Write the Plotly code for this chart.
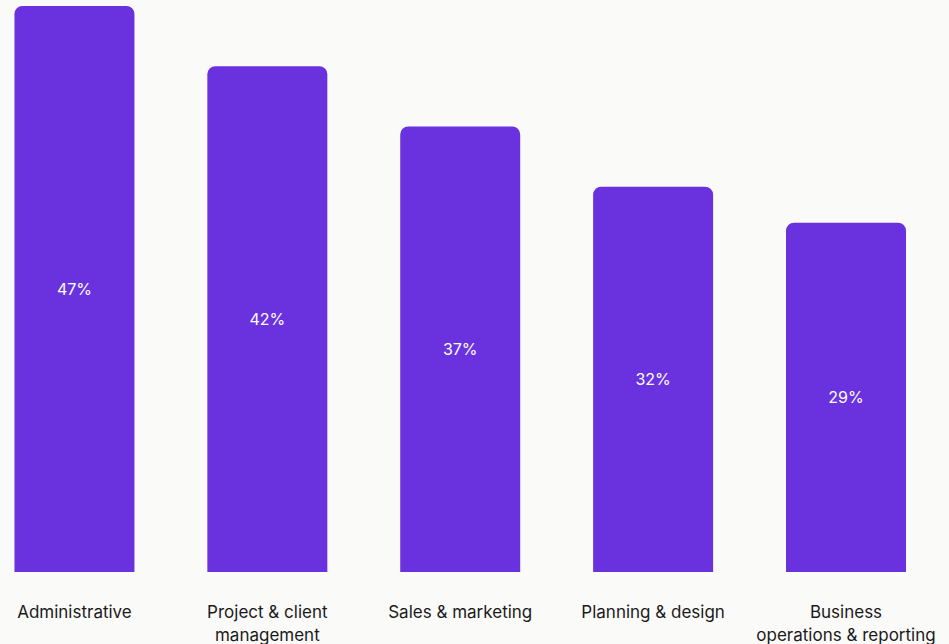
import plotly.graph_objects as go

categories = ["Administrative", "Project & client<br>management", "Sales & marketing",
              "Planning & design", "Business<br>operations & reporting"]
shares = [47, 42, 37, 32, 29]
value_labels = [f"{v}%" for v in shares]

BAR_COLOR = "#6A31DE"
BG = "#FAFAF9"

fig = go.Figure(
    go.Bar(
        x=categories,
        y=shares,
        text=value_labels,
        textposition="inside",
        insidetextanchor="middle",
        textfont=dict(family="Inter", size=16, color="white"),
        marker=dict(color=BAR_COLOR, line=dict(width=0)),
        width=0.622,
        hoverinfo="skip",
    )
)

fig.update_layout(
    width=949,
    height=644,
    margin=dict(l=0, r=0, t=6, b=72),
    paper_bgcolor=BG,
    plot_bgcolor=BG,
    barcornerradius=8,
    showlegend=False,
    font=dict(family="Inter", size=16, color="#1a1a1a"),
    uniformtext=dict(mode="show", minsize=16),
)
fig.update_xaxes(
    range=[-0.386, 4.534],
    showgrid=False,
    zeroline=False,
    showline=False,
    ticks="outside",
    ticklen=25,
    tickcolor="rgba(0,0,0,0)",
    tickfont=dict(family="Inter", size=17, color="#1a1a1a"),
)
fig.update_yaxes(
    range=[0, 47],
    showgrid=False,
    zeroline=False,
    showline=False,
    showticklabels=False,
)

fig.write_html("out.html")
